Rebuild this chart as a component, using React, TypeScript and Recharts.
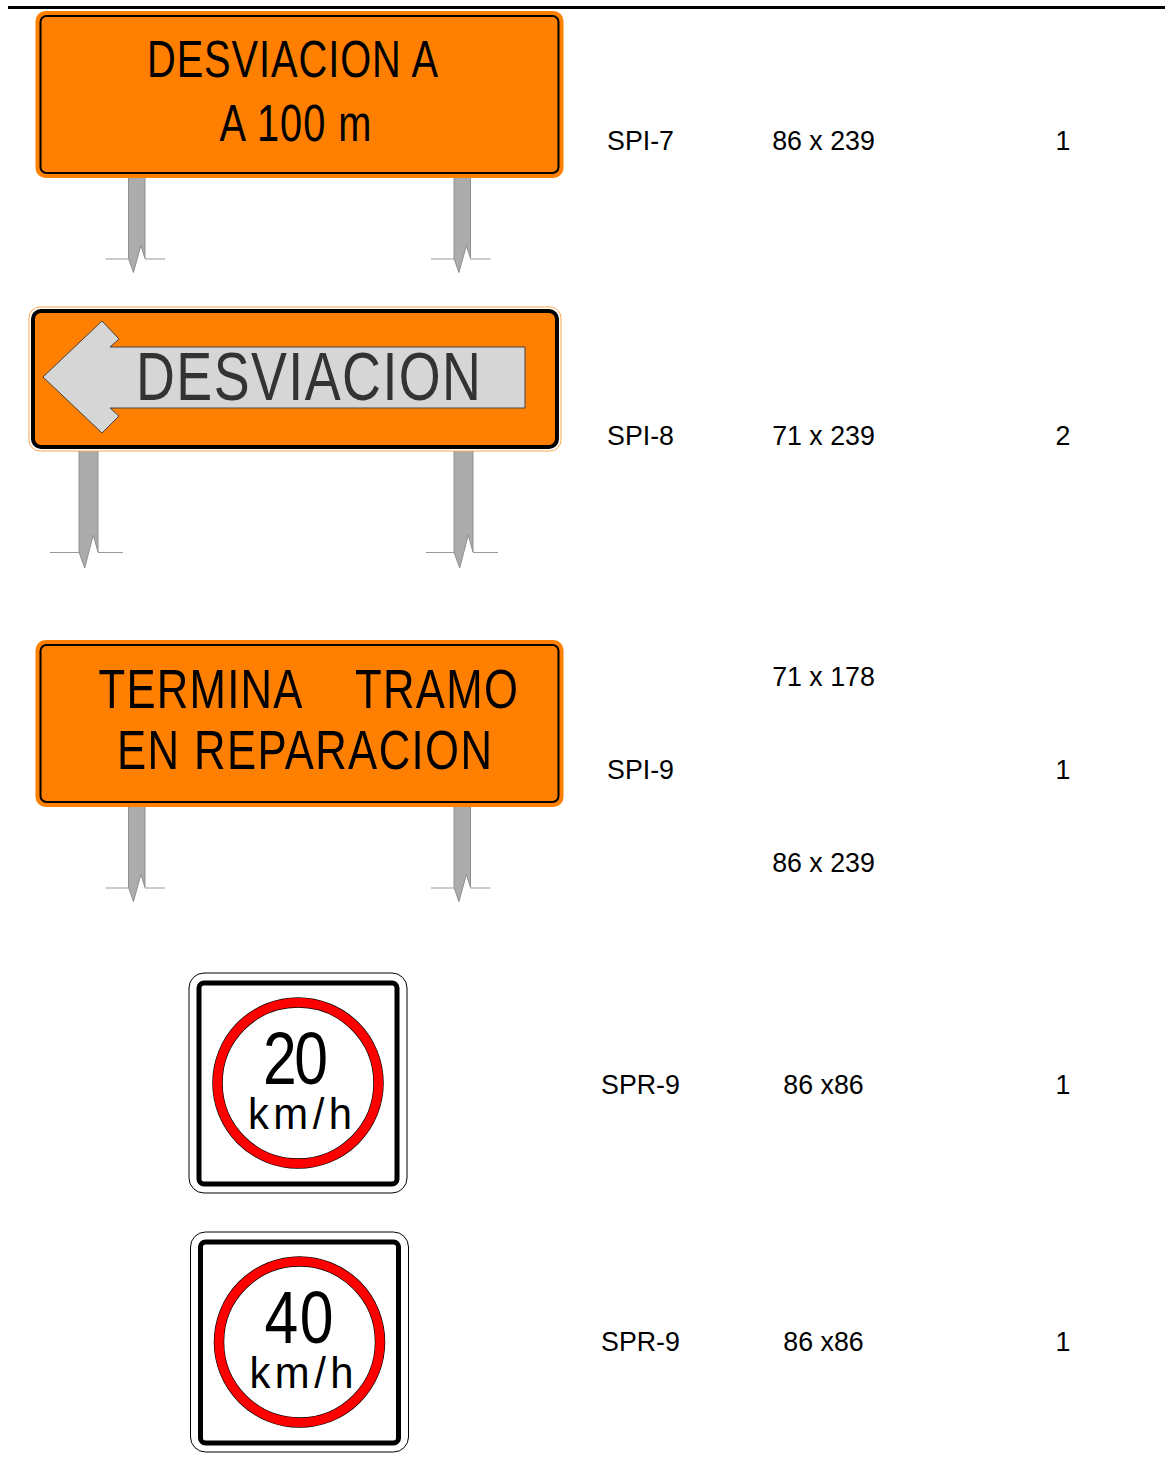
import { ScatterChart, Scatter, XAxis, YAxis, ReferenceLine } from 'recharts'

const FONT = '"Liberation Sans", Arial, sans-serif'
const ORANGE = '#ff8000'

// table columns
const codeRows = [141, 436, 770, 1085, 1342]
const codes = ['SPI-7', 'SPI-8', 'SPI-9', 'SPR-9', 'SPR-9']
const sizeRows = [141, 436, 677, 863, 1085, 1342]
const sizes = ['86 x 239', '71 x 239', '71 x 178', '86 x 239', '86 x86', '86 x86']
const quantities = ['1', '2', '1', '1', '1']

// sign anchors
const boardCenters = [
  { x: 299.5, y: 94.5 },
  { x: 299.5, y: 723.5 },
]
const arrowCenter = [{ x: 295, y: 379 }]
const speedCenters = [
  { x: 298, y: 1083 },
  { x: 299.5, y: 1342 },
]
const speedLabels = ['20', '40']

const codeData = codes.map((label, i) => ({ x: 640.5, y: codeRows[i], label }))
const sizeData = sizes.map((label, i) => ({ x: 823.5, y: sizeRows[i], label }))
const qtyData = quantities.map((label, i) => ({ x: 1063, y: codeRows[i], label }))

const CellText = (props: any) => (
  <text
    x={props.cx}
    y={props.cy + 9}
    textAnchor="middle"
    fontFamily={FONT}
    fontSize={26.75}
    fill="#000"
  >
    {props.payload.label}
  </text>
)

// sign lettering: glyphs pinched by sx, the rest of the width goes into the gaps
const SignText = ({ x, y, w, size, sx = 0.78, fill = '#000', children }: any) => (
  <text
    transform={`translate(${x} ${y}) scale(${sx} 1)`}
    fontFamily={FONT}
    fontSize={size}
    fill={fill}
    textLength={w / sx}
    lengthAdjust="spacing"
  >
    {children}
  </text>
)

const Post = ({ x, top, bottom, w, tip, notch, left, right }: any) => (
  <g>
    <path
      d={`M${x} ${top}V${bottom}L${x + w * 0.3} ${bottom + tip}L${x + w * 0.75} ${bottom - notch}L${x + w} ${bottom}V${top}Z`}
      fill="#acacac"
      stroke="#8f8f8f"
      strokeWidth={1}
    />
    <path d={`M${x - left} ${bottom + 0.5}H${x}M${x + w} ${bottom + 0.5}H${x + w + right}`} stroke="#999" strokeWidth={1} fill="none" />
  </g>
)

const Board = (props: any) => {
  const { cx, cy, index } = props
  const w = 528
  const h = 167
  const x = cx - w / 2
  const y = cy - h / 2
  return (
    <g>
      <Post x={cx - 171} top={cy + 83} bottom={cy + 164} w={16.5} tip={14} notch={13} left={23} right={20} />
      <Post x={cx + 154.5} top={cy + 83} bottom={cy + 164} w={16.5} tip={14} notch={13} left={23} right={20} />
      <rect x={x} y={y} width={w} height={h} rx={10} fill={ORANGE} />
      <rect x={x + 5} y={y + 5} width={w - 10} height={h - 10} rx={6} fill={ORANGE} stroke="#000" strokeWidth={2} />
      {index === 0 ? (
        <>
          <SignText x={147} y={cy - 18} w={291} size={51}>DESVIACION A</SignText>
          <SignText x={219.5} y={cy + 46} w={152} size={51}>A 100 m</SignText>
        </>
      ) : (
        <>
          <SignText x={98.5} y={cy - 16} w={204} size={56}>TERMINA</SignText>
          <SignText x={355} y={cy - 16} w={163} size={56}>TRAMO</SignText>
          <SignText x={117} y={cy + 45} w={375} size={56}>EN REPARACION</SignText>
        </>
      )}
    </g>
  )
}

const ArrowBoard = (props: any) => {
  const { cx, cy } = props
  const x = cx - 266
  const y = cy - 72
  return (
    <g>
      <Post x={cx - 216} top={cy + 71} bottom={cy + 173} w={19} tip={16} notch={17} left={29} right={25} />
      <Post x={cx + 159} top={cy + 71} bottom={cy + 173} w={19} tip={16} notch={17} left={28} right={25} />
      <rect x={x} y={y} width={532} height={144} rx={11} fill="#fff" stroke="#ffa64d" strokeWidth={1} />
      <rect x={x + 4} y={y + 4} width={524} height={136} rx={8} fill={ORANGE} stroke="#000" strokeWidth={4} />
      <path
        d={`M${cx - 252} ${cy - 2}L${cx - 193} ${cy - 58}L${cx - 176} ${cy - 40}L${cx - 185} ${cy - 32}H${cx + 230}V${cy + 29}H${cx - 185}L${cx - 176} ${cy + 37}L${cx - 193} ${cy + 54}Z`}
        fill="#d6d6d6"
        stroke="#444"
        strokeWidth={1}
      />
      <SignText x={136} y={cy + 21} w={345} size={69} fill="#333">DESVIACION</SignText>
    </g>
  )
}

const SpeedSign = (props: any) => {
  const { cx, cy, payload } = props
  return (
    <g>
      <rect x={cx - 109} y={cy - 110} width={218} height={220} rx={15} fill="#fff" stroke="#000" strokeWidth={1} />
      <rect x={cx - 99} y={cy - 100} width={198} height={201} rx={5} fill="#fff" stroke="#000" strokeWidth={5} />
      <circle cx={cx} cy={cy} r={80.5} fill="none" stroke="#000" strokeWidth={10.5} />
      <circle cx={cx} cy={cy} r={80.5} fill="none" stroke="#ff0000" strokeWidth={9.2} />
      <SignText x={cx - 35} y={cy + 1} w={payload.label === '20' ? 65 : 69} size={74} sx={0.82}>{payload.label}</SignText>
      <SignText x={cx - 50} y={cy + 46} w={104} size={45} sx={0.93}>km/h</SignText>
    </g>
  )
}

export default function App() {
  return (
    <div style={{ position: 'absolute', left: 0, top: 0, width: 1165, height: 1481, background: '#fff' }}>
      <ScatterChart width={1165} height={1481} margin={{ top: 0, right: 0, bottom: 0, left: 0 }}>
        <XAxis type="number" dataKey="x" domain={[0, 1165]} hide />
        <YAxis type="number" dataKey="y" domain={[0, 1481]} reversed hide />
        <ReferenceLine
          segment={[
            { x: 8, y: 7.5 },
            { x: 1165, y: 7.5 },
          ]}
          stroke="#000"
          strokeWidth={3}
        />
        <Scatter data={boardCenters} shape={Board} isAnimationActive={false} />
        <Scatter data={arrowCenter} shape={ArrowBoard} isAnimationActive={false} />
        <Scatter
          data={speedCenters.map((c, i) => ({ ...c, label: speedLabels[i] }))}
          shape={SpeedSign}
          isAnimationActive={false}
        />
        <Scatter data={codeData} shape={CellText} isAnimationActive={false} />
        <Scatter data={sizeData} shape={CellText} isAnimationActive={false} />
        <Scatter data={qtyData} shape={CellText} isAnimationActive={false} />
      </ScatterChart>
    </div>
  )
}
